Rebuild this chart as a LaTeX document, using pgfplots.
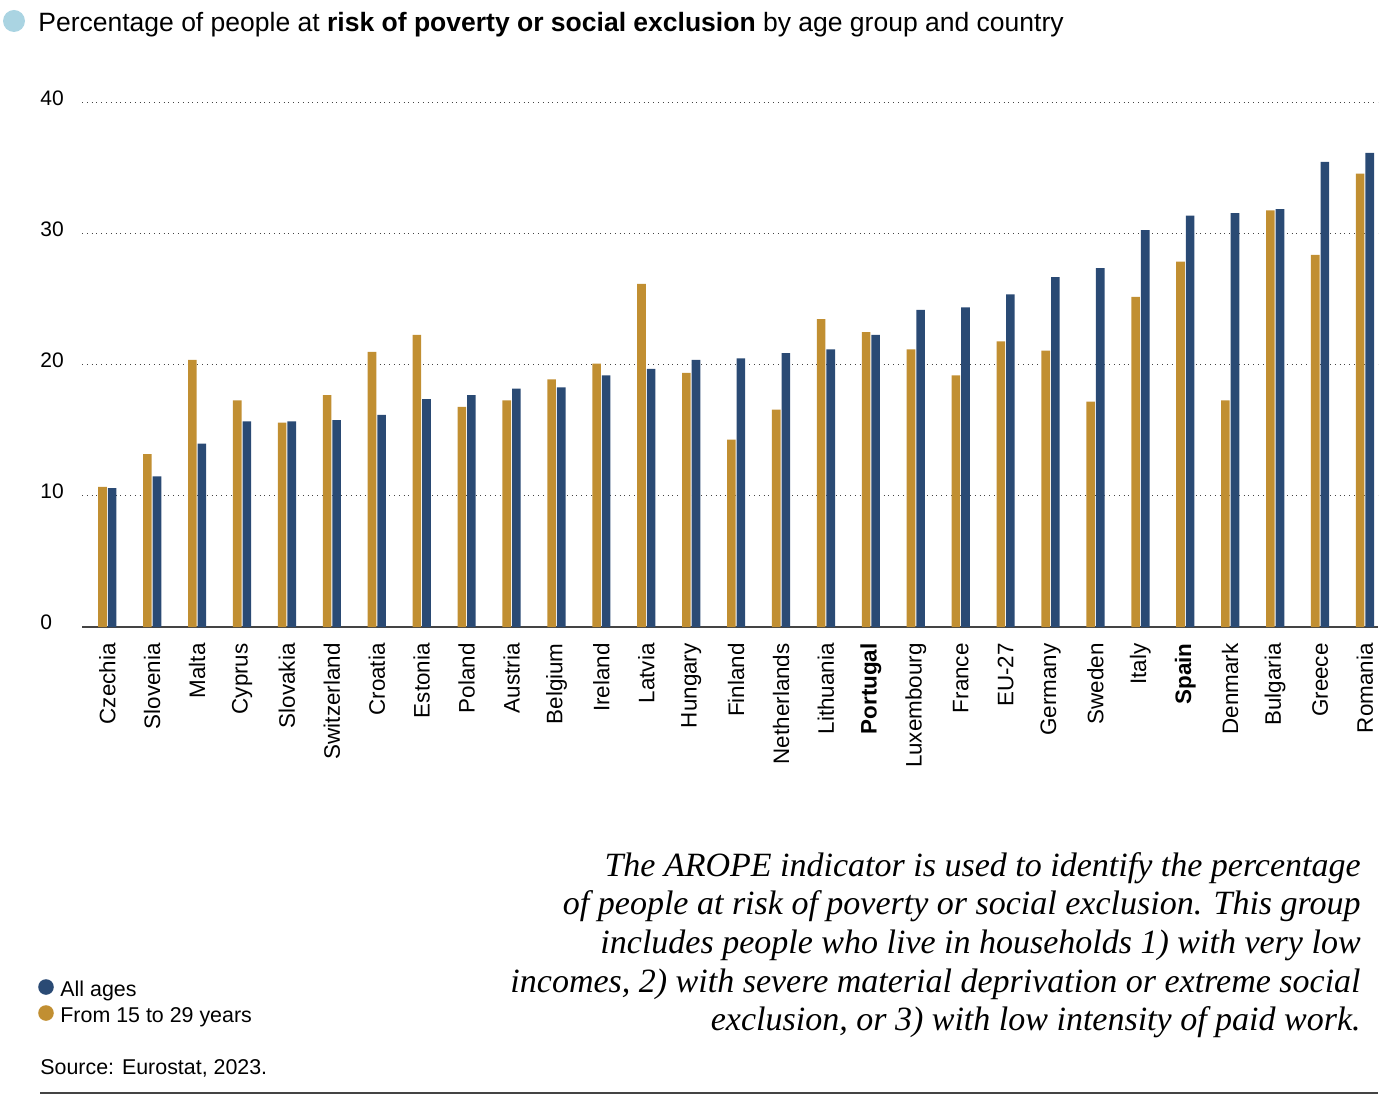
\documentclass[border=0pt]{standalone}
\usepackage{pgfplots}
\pgfplotsset{compat=1.18}
\usepackage{fontspec}
\setmainfont{Liberation Sans}
\newfontfamily\notefont{Liberation Serif}
\definecolor{gold}{HTML}{C18F32}
\definecolor{navy}{HTML}{2A4A74}
\definecolor{dotc}{HTML}{444444}
\definecolor{lblue}{HTML}{AAD4E2}

\pgfplotstableread{
x young all
0  10.7 10.6
1  13.2 11.5
2  20.4 14.0
3  17.3 15.7
4  15.6 15.7
5  17.7 15.8
6  21.0 16.2
7  22.3 17.4
8  16.8 17.7
9  17.3 18.2
10 18.9 18.3
11 20.1 19.2
12 26.2 19.7
13 19.4 20.4
14 14.3 20.5
15 16.6 20.9
16 23.5 21.2
17 22.5 22.3
18 21.2 24.2
19 19.2 24.4
20 21.8 25.4
21 21.1 26.7
22 17.2 27.4
23 25.2 30.3
24 27.9 31.4
25 17.3 31.6
26 31.8 31.9
27 28.4 35.5
28 34.6 36.2
}\datatable

\begin{document}
\begin{tikzpicture}
\path[use as bounding box] (0,0) rectangle (698.5pt,-547.5pt);
\begin{axis}[
  at={(41pt,-313.5pt)}, anchor=south west,
  scale only axis, width=648pt, height=262pt,
  xmin=-0.563, xmax=28.29, ymin=0, ymax=40,
  axis line style={draw=none},
  major tick length=0pt,
  ybar, bar width=4.3pt,
  xtick={0,...,28},
  xticklabels={Czechia,Slovenia,Malta,Cyprus,Slovakia,Switzerland,Croatia,Estonia,Poland,Austria,Belgium,Ireland,Latvia,Hungary,Finland,Netherlands,Lithuania,\textbf{Portugal},Luxembourg,France,EU-27,Germany,Sweden,Italy,\textbf{Spain},Denmark,Bulgaria,Greece,Romania},
  xticklabel style={rotate=90, anchor=east, inner sep=0pt, xshift=1pt, font=\fontsize{11.2}{13}\selectfont},
  xticklabel shift=9pt,
  ytick={10,20,30,40},
  extra y ticks={0},
  extra y tick style={grid style={solid, draw=dotc, line width=0.8pt}},
  ymajorgrids,
  grid style={dotted, draw=dotc, line width=0.5pt},
  /pgf/number format/assume math mode=true,
  yticklabel style={anchor=west, inner sep=0pt, xshift=-21pt, yshift=2.5pt, font=\fontsize{10.5}{12}\selectfont},
]
\addplot[fill=gold, draw=none, bar shift=-2.4pt] table[x=x, y=young] {\datatable};
\addplot[fill=navy, draw=none, bar shift=2.4pt] table[x=x, y=all] {\datatable};
\end{axis}

% title
\fill[lblue] (7pt,-10.5pt) circle (5.5pt);
\node[anchor=base west, inner sep=0pt, font=\fontsize{13.25}{15}\selectfont] at (19pt,-16pt)
  {Percentage of people at \textbf{risk of poverty or social exclusion} by age group and country};

% legend
\fill[navy] (23pt,-493.5pt) circle (3.9pt);
\node[anchor=base west, inner sep=0pt, font=\fontsize{10.7}{12}\selectfont] at (30pt,-498pt) {All ages};
\fill[gold] (23pt,-506.5pt) circle (3.9pt);
\node[anchor=base west, inner sep=0pt, font=\fontsize{10.7}{12}\selectfont] at (30pt,-511pt) {From 15 to 29 years};
\node[anchor=base west, inner sep=0pt, font=\fontsize{10.7}{12}\selectfont] at (20pt,-537pt) {Source: Eurostat, 2023.};
\draw[dotc, line width=0.6pt] (20pt,-546.5pt) -- (689pt,-546.5pt);

% note
\begin{scope}[every node/.style={anchor=base east, inner sep=0pt, font=\notefont\itshape\fontsize{17}{20}\selectfont}]
\node at (680.5pt,-438pt) {The AROPE indicator is used to identify the percentage};
\node at (680.5pt,-457pt) {of people at risk of poverty or social exclusion. This group};
\node at (680.5pt,-476.5pt) {includes people who live in households 1) with very low};
\node at (680.5pt,-496pt) {incomes, 2) with severe material deprivation or extreme social};
\node at (680.5pt,-515pt) {exclusion, or 3) with low intensity of paid work.};
\end{scope}
\end{tikzpicture}
\end{document}
